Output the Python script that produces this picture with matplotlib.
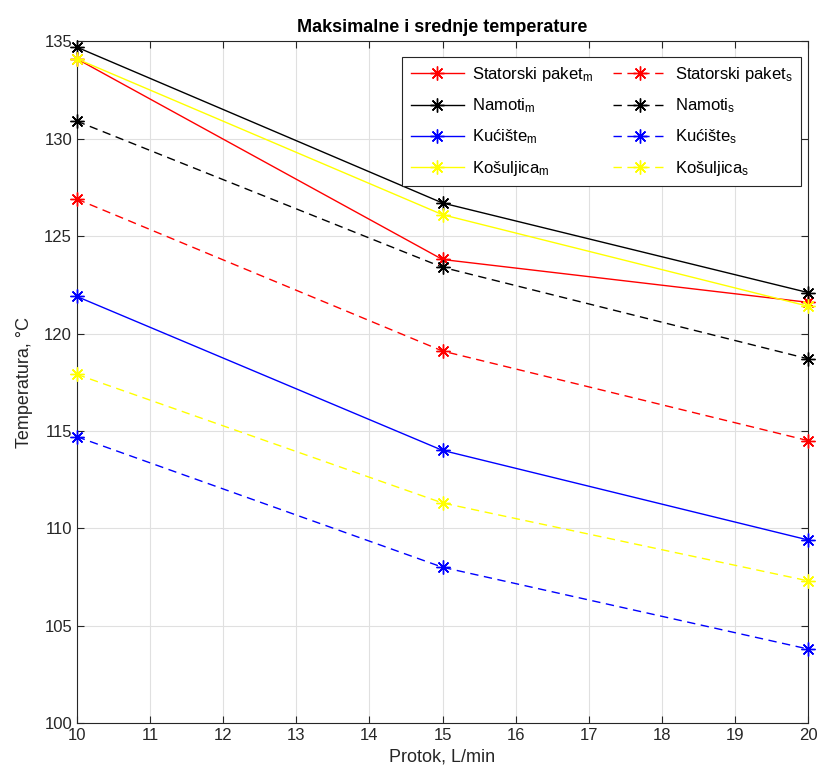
import numpy as np
import matplotlib
matplotlib.use("Agg")
import matplotlib.pyplot as plt
import matplotlib as mpl

mpl.rcParams['font.family'] = 'Liberation Sans'
mpl.rcParams['mathtext.fontset'] = 'custom'
mpl.rcParams['mathtext.rm'] = 'Liberation Sans'
mpl.rcParams['mathtext.it'] = 'Liberation Sans:italic'

# data
protok = [10, 15, 20]
stator_m = [134.1, 123.8, 121.6]
stator_s = [126.9, 119.1, 114.5]
namoti_m = [134.7, 126.7, 122.1]
namoti_s = [130.9, 123.4, 118.7]
kuciste_m = [121.9, 114.0, 109.4]
kuciste_s = [114.7, 108.0, 103.8]
kosuljica_m = [134.1, 126.1, 121.4]
kosuljica_s = [117.9, 111.3, 107.3]

names = ['Statorski paket', 'Namoti', 'Kućište', 'Košuljica']
colors = ['red', 'black', 'blue', 'yellow']
max_vals = [stator_m, namoti_m, kuciste_m, kosuljica_m]
mean_vals = [stator_s, namoti_s, kuciste_s, kosuljica_s]

star = (8, 2, 0)  # matlab style asterisk

fig = plt.figure(figsize=(8.18, 7.8), dpi=100)
ax = fig.add_axes([0.094, 0.073, 0.894, 0.874])

handles = []
for name, c, ym in zip(names, colors, max_vals):
    h, = ax.plot(protok, ym, '-', color=c, marker=star, ms=10, mew=1.0, lw=1.0,
                 clip_on=False, zorder=3, label=name + r'$_{\mathrm{m}}$')
    handles.append(h)
for name, c, ys in zip(names, colors, mean_vals):
    h, = ax.plot(protok, ys, '--', color=c, marker=star, ms=10, mew=1.0, lw=1.0,
                 dashes=(6, 4), clip_on=False, zorder=3,
                 label=name + r'$_{\mathrm{s}}$')
    handles.append(h)

ax.set_xlim(10, 20)
ax.set_ylim(100, 135)
ax.set_xticks(np.arange(10, 21, 1))
ax.set_yticks(np.arange(100, 136, 5))
ax.grid(True, color='#e0e0e0', lw=0.8)
ax.set_axisbelow(True)
ax.tick_params(direction='in', top=True, right=True, labelsize=12,
               colors='#262626', length=5)
for s in ax.spines.values():
    s.set_color('#262626')
    s.set_linewidth(0.8)
    s.set_zorder(2)

ax.set_title('Maksimalne i srednje temperature', fontsize=13, fontweight='bold', pad=7)
ax.set_xlabel('Protok, L/min', fontsize=13, color='#262626')
ax.set_ylabel('Temperatura, °C', fontsize=13, color='#262626', labelpad=8)

leg = ax.legend(handles=handles, ncol=2, loc='upper right', fontsize=12,
                bbox_to_anchor=(0.997, 0.985), fancybox=False, edgecolor='#262626',
                framealpha=1, handlelength=3.2, handletextpad=0.5, columnspacing=1.2,
                borderaxespad=0.3, labelspacing=0.75, borderpad=0.5)
leg.get_frame().set_linewidth(0.8)
leg.set_zorder(5)

fig.savefig('out.png', dpi=100)
